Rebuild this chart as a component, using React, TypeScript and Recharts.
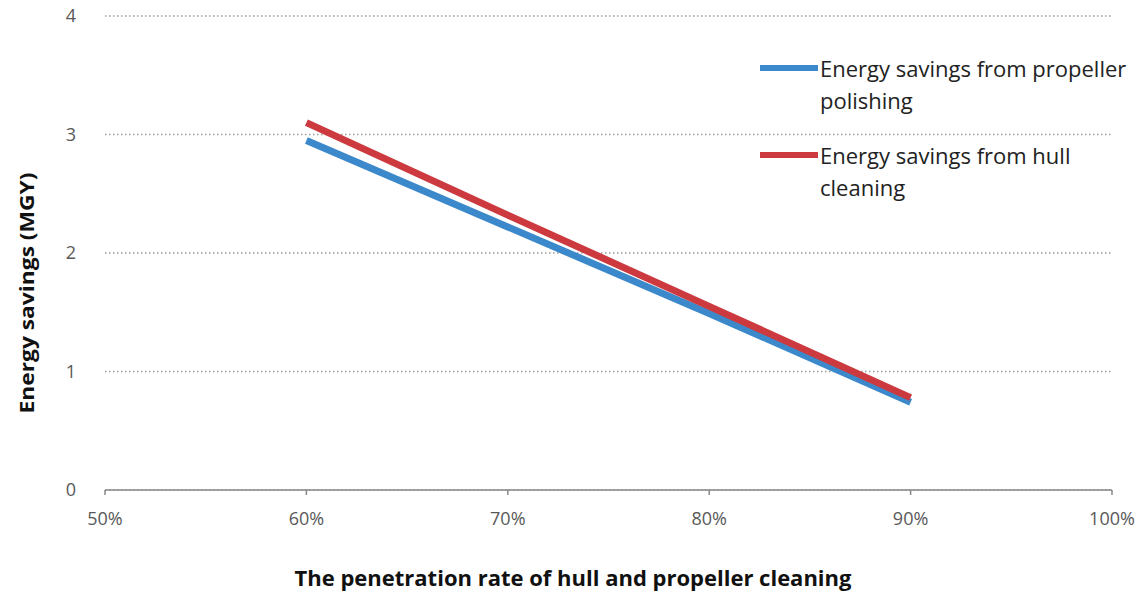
import {
  LineChart,
  Line,
  XAxis,
  YAxis,
  CartesianGrid,
  Legend,
  Label,
} from "recharts";

const penetration = [60, 70, 80, 90];
const propellerSavings = [2.95, 2.22, 1.49, 0.74];
const hullSavings = [3.1, 2.32, 1.55, 0.78];
const xTicks = [50, 60, 70, 80, 90, 100];
const yTicks = [0, 1, 2, 3, 4];
const seriesOrder = ["propeller", "hull"];

const data = penetration.map((p, i) => ({
  rate: p,
  propeller: propellerSavings[i],
  hull: hullSavings[i],
}));

const FONT = "'Open Sans', sans-serif";

const renderLegend = (props: any) => {
  const items = [...(props.payload || [])].sort(
    (a: any, b: any) =>
      seriesOrder.indexOf(a.dataKey) - seriesOrder.indexOf(b.dataKey)
  );
  return (
    <div style={{ fontFamily: FONT }}>
      {items.map((entry: any) => (
        <div
          key={entry.value}
          style={{ display: "flex", alignItems: "flex-start", marginBottom: 23 }}
        >
          <div
            style={{
              width: 58,
              height: 6,
              background: entry.color,
              marginTop: 13,
              flexShrink: 0,
            }}
          />
          <div
            style={{
              width: 326,
              fontSize: 22,
              lineHeight: "32px",
              color: "#222",
              marginLeft: 2,
            }}
          >
            {entry.value}
          </div>
        </div>
      ))}
    </div>
  );
};

export default function App() {
  return (
    <div style={{ position: "absolute", left: 0, top: 0, background: "#fff" }}>
      <LineChart
        width={1148}
        height={594}
        data={data}
        margin={{ top: 16, right: 36, bottom: 0, left: 0 }}
      >
        <CartesianGrid
          horizontal
          vertical={false}
          stroke="#9a9a9a"
          strokeWidth={1.5}
          strokeDasharray="1.5 2.5"
        />
        <XAxis
          dataKey="rate"
          type="number"
          domain={[50, 100]}
          ticks={xTicks}
          tickFormatter={(v) => `${v}%`}
          height={104}
          stroke="#888"
          strokeWidth={1.5}
          tickSize={5}
          tickMargin={17}
          tick={{ fill: "#595959", fontSize: 18, fontFamily: FONT }}
        >
          <Label
            content={() => (
              <text
                x={573}
                y={586}
                textAnchor="middle"
                fontFamily={FONT}
                fontSize={22}
                fontWeight="bold"
                fill="#111"
              >
                The penetration rate of hull and propeller cleaning
              </text>
            )}
          />
        </XAxis>
        <YAxis
          type="number"
          domain={[0, 4]}
          ticks={yTicks}
          width={105}
          axisLine={false}
          tickLine={false}
          tickSize={0}
          tickMargin={29}
          tick={{ fill: "#595959", fontSize: 18, fontFamily: FONT }}
        >
          <Label
            content={() => (
              <text
                transform="translate(27 293) rotate(-90) scale(1.2 1)"
                textAnchor="middle"
                dominantBaseline="central"
                fontFamily={FONT}
                fontSize={19}
                fontWeight="bold"
                fill="#111"
              >
                Energy savings (MGY)
              </text>
            )}
          />
        </YAxis>
        <Legend
          layout="horizontal"
          verticalAlign="middle"
          align="center"
          content={renderLegend}
          wrapperStyle={{ position: "absolute", top: 52, left: 760, width: 390 }}
        />
        <Line
          type="linear"
          dataKey="propeller"
          name="Energy savings from propeller polishing"
          stroke="#3b88cb"
          strokeWidth={7}
          dot={false}
          isAnimationActive={false}
        />
        <Line
          type="linear"
          dataKey="hull"
          name="Energy savings from hull cleaning"
          stroke="#cc3a40"
          strokeWidth={7}
          dot={false}
          isAnimationActive={false}
        />
      </LineChart>
    </div>
  );
}
